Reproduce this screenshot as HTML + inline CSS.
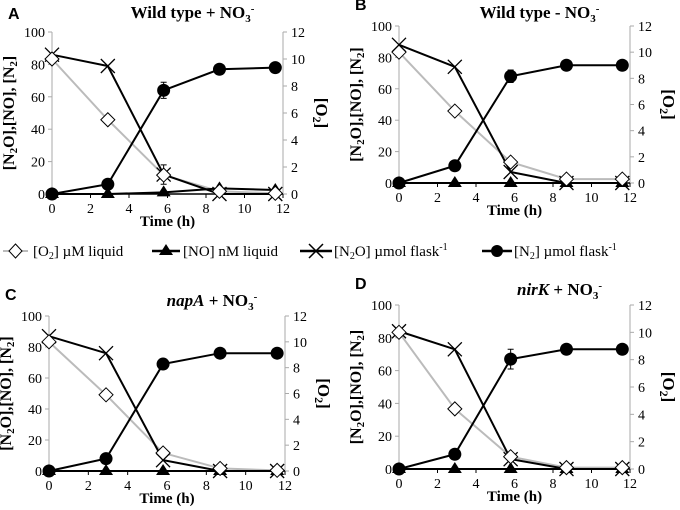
<!DOCTYPE html>
<html><head><meta charset="utf-8"><style>
body{margin:0;background:#fff}
svg{display:block}
svg text{font-family:"Liberation Serif","Noto Serif CJK SC","DejaVu Serif",serif}
svg text.sans{font-family:"Liberation Sans",sans-serif}
</style></head><body>
<svg id="fig" width="680" height="510" viewBox="0 0 680 510" xmlns="http://www.w3.org/2000/svg">
<g id="legend" font-size="15">
<g><line x1="3" y1="251" x2="28" y2="251" stroke="#bbb" stroke-width="2"/><path d="M15.5 244 L22 251 L15.5 258 L9 251Z" fill="#fff" stroke="#000"/><text x="33" y="256">[O<tspan font-size="10" dy="3">2</tspan><tspan dy="-3">] µM liquid</tspan></text></g>
<g><line x1="152" y1="251" x2="180" y2="251" stroke="#000" stroke-width="2.5"/><path d="M166 244 L173 255 L159 255Z"/><text x="183" y="256">[NO] nM liquid</text></g>
<g><line x1="300" y1="251" x2="332" y2="251" stroke="#000" stroke-width="2.5"/><path d="M309 244 L323 258 M323 244 L309 258" stroke="#000" stroke-width="1.5"/><text x="334" y="256">[N<tspan font-size="10" dy="3">2</tspan><tspan dy="-3">O] µmol flask</tspan><tspan font-size="10" dy="-6">-1</tspan></text></g>
<g><line x1="482" y1="251" x2="512" y2="251" stroke="#000" stroke-width="2.5"/><circle cx="497" cy="251" r="6"/><text x="514" y="256">[N<tspan font-size="10" dy="3">2</tspan><tspan dy="-3">] µmol flask</tspan><tspan font-size="10" dy="-6">-1</tspan></text></g>
</g>
</svg>
<script>
const times=[0,2.9,5.8,8.7,11.6];
const xTicks=[0,2,4,6,8,10,12];
const yTicks=[0,20,40,60,80,100];
const y2Ticks=[0,2,4,6,8,10,12];
const o2A=[10,5.5,1.4,0.2,0.05], noA=[0,0,1,3.5,2.5], n2oA=[86,79,12,0,0], n2A=[0,6,64,77,78];
const o2B=[10,5.5,1.6,0.3,0.3], noB=[0,0,0,0,0], n2oB=[88,74,7,0,0], n2B=[0,11,68,75,75];
const o2C=[10,5.9,1.4,0.2,0.05], noC=[0,0,0,0,0], n2oC=[87,76,7,0,0], n2C=[0,8,69,76,76];
const o2D=[10,4.4,0.9,0.1,0.1], noD=[0,0,0,0,0], n2oD=[84,73,6,0,0], n2D=[0,9,67,73,73];
const errA=[5,6], errB=[4,0], errC=[0,0], errD=[6,0];
const NS="http://www.w3.org/2000/svg";
const svg=document.getElementById('fig');
function mk(t,a,p){const e=document.createElementNS(NS,t);for(const k in a)e.setAttribute(k,a[k]);(p||svg).appendChild(e);return e;}
const panels=[
 {id:'a',L:'A',x0:52,x1:283,y0:194,y1:32,title:'Wild type + NO',it:false,o2:o2A,no:noA,n2o:n2oA,n2:n2A,err:errA},
 {id:'b',L:'B',x0:399,x1:630,y0:183,y1:26,title:'Wild type - NO',it:false,o2:o2B,no:noB,n2o:n2oB,n2:n2B,err:errB},
 {id:'c',L:'C',x0:49,x1:285,y0:471,y1:316,title:'napA',it:true,o2:o2C,no:noC,n2o:n2oC,n2:n2C,err:errC},
 {id:'d',L:'D',x0:399,x1:630,y0:469,y1:305,title:'nirK',it:true,o2:o2D,no:noD,n2o:n2oD,n2:n2D,err:errD}
];
panels.forEach(P=>{
 const g=mk('g',{});
 
 
 const X=t=>P.x0+(P.x1-P.x0)*t/12;
 const Y=v=>P.y0-(P.y0-P.y1)*v/100;
 const Y2=v=>P.y0-(P.y0-P.y1)*v/12;
 const la=mk('line',{x1:P.x0,y1:P.y1,x2:P.x0,y2:P.y0,stroke:'#aaa'},g);
 
 const ra=mk('line',{x1:P.x1,y1:P.y1,x2:P.x1,y2:P.y0,stroke:'#aaa'},g);
 
 const xa=mk('line',{x1:P.x0,y1:P.y0,x2:P.x1,y2:P.y0,stroke:'#000','stroke-width':1.5},g);
 
 yTicks.forEach(v=>{mk('line',{x1:P.x0-4,x2:P.x0,y1:Y(v),y2:Y(v),stroke:'#aaa'},g);
  const t=mk('text',{x:P.x0-7,y:Y(v)+5,'text-anchor':'end','font-size':14},g);t.textContent=v;
  });
 y2Ticks.forEach(v=>{mk('line',{x1:P.x1,x2:P.x1+4,y1:Y2(v),y2:Y2(v),stroke:'#aaa'},g);
  const t=mk('text',{x:P.x1+8,y:Y2(v)+5,'font-size':14},g);t.textContent=v;
  });
 xTicks.forEach(v=>{mk('line',{x1:X(v),x2:X(v),y1:P.y0,y2:P.y0+4,stroke:'#000'},g);
  const t=mk('text',{x:X(v),y:P.y0+19,'text-anchor':'middle','font-size':14},g);t.textContent=v;
  });
 const xt=mk('text',{x:(P.x0+P.x1)/2,y:P.y0+32,'text-anchor':'middle','font-size':15,'font-weight':'bold'},g);xt.textContent='Time (h)';
 
 const cy=(P.y0+P.y1)/2;
 const yt=mk('text',{transform:`translate(${P.x0-38},${cy}) rotate(-90)`,'text-anchor':'middle','font-size':16,'font-weight':'bold'},g);
 yt.innerHTML='[N<tspan font-size="11" dy="3">2</tspan><tspan dy="-3">O],[NO], [N</tspan><tspan font-size="11" dy="3">2</tspan><tspan dy="-3">]</tspan>';
 
 const y2t=mk('text',{transform:`translate(${P.x1+33},${cy}) rotate(90)`,'text-anchor':'middle','font-size':17,'font-weight':'bold'},g);
 y2t.innerHTML='[O<tspan font-size="12" dy="3">2</tspan><tspan dy="-3">]</tspan>';
 
 const lt=mk('text',{x:P.x0-44,y:P.y1-16,'font-weight':'bold','font-size':16,'class':'sans'},g);lt.textContent=P.L;
 if(P.id==='a')lt.setAttribute('y',19);
 
 const tt=mk('text',{x:P.it?(P.x0+P.x1)/2+45:(P.x0+P.x1)/2+25,y:P.id==='a'?18:P.y1-10,'text-anchor':'middle','font-size':17,'font-weight':'bold'},g);
 tt.innerHTML=(P.it?`<tspan font-style="italic">${P.title}</tspan> + NO`:P.title)+'<tspan font-size="11" dy="4">3</tspan><tspan font-size="11" dy="-10">-</tspan>';
 if(P.id==='b')tt.setAttribute('y',18);
 
 const pts=(arr,f)=>arr.map((v,i)=>X(times[i])+','+f(v)).join(' ');
 const lo=mk('polyline',{points:pts(P.o2,Y2),fill:'none',stroke:'#bbb','stroke-width':2},g);
 
 const ln=mk('polyline',{points:pts(P.no,Y),fill:'none',stroke:'#000','stroke-width':2},g);
 
 const l2=mk('polyline',{points:pts(P.n2o,Y),fill:'none',stroke:'#000','stroke-width':2},g);
 
 const l3=mk('polyline',{points:pts(P.n2,Y),fill:'none',stroke:'#000','stroke-width':2},g);
 
 const ex=X(times[2]);
 [[P.n2[2],P.err[0]],[P.n2o[2],P.err[1]]].forEach(([v,e])=>{if(!e)return;
  const eb=mk('path',{d:`M${ex} ${Y(v-e)}V${Y(v+e)}M${ex-3} ${Y(v-e)}h6M${ex-3} ${Y(v+e)}h6`,stroke:'#000',fill:'none'},g);
  });
 times.forEach((t,i)=>{
  const x=X(t);
  let y=Y(P.no[i]);
  const tr=mk('path',{d:`M${x} ${y-7}L${x+7} ${y+4}L${x-7} ${y+4}Z`},g);
  
  y=Y(P.n2o[i]);
  const cr=mk('path',{d:`M${x-7} ${y-7}L${x+7} ${y+7}M${x+7} ${y-7}L${x-7} ${y+7}`,stroke:'#000','stroke-width':1.3},g);
  
  y=Y(P.n2[i]);
  const ci=mk('circle',{cx:x,cy:y,r:6.5},g);
  
  y=Y2(P.o2[i]);
  const di=mk('path',{d:`M${x} ${y-7}L${x+7} ${y}L${x} ${y+7}L${x-7} ${y}Z`,fill:'#fff',stroke:'#000'},g);
  
 });
});
</script>
</body></html>
